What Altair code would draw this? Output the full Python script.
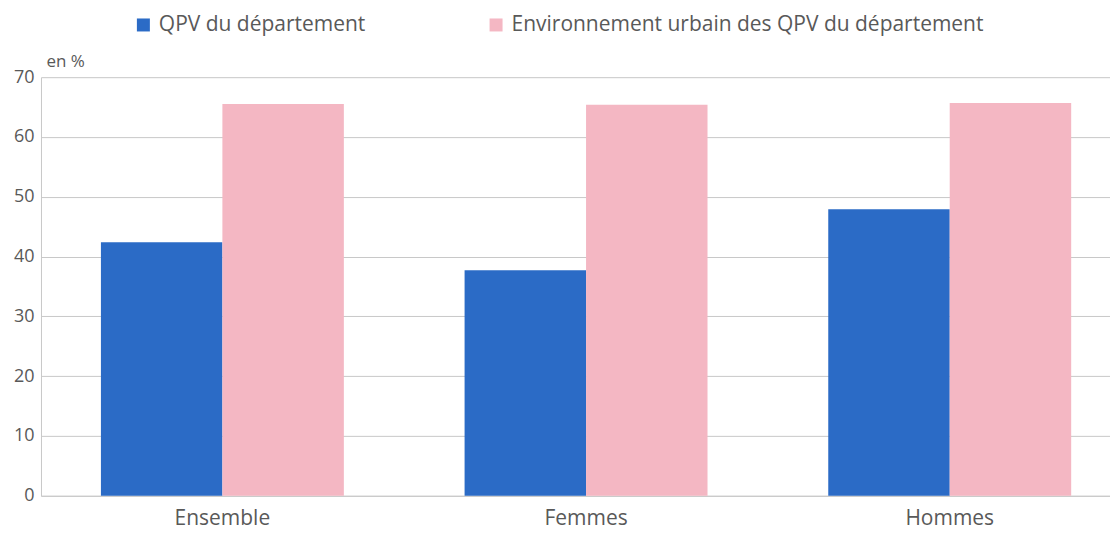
import altair as alt
import pandas as pd

categories = ["Ensemble", "Femmes", "Hommes"]
series = ["QPV du département", "Environnement urbain des QPV du département"]
qpv_values = [42.4, 37.7, 47.9]
env_values = [65.5, 65.4, 65.7]
colors = ["#2B6BC6", "#F4B7C3"]
y_ticks = [0, 10, 20, 30, 40, 50, 60, 70]

rows = []
for c, q, e in zip(categories, qpv_values, env_values):
    rows.append({"cat": c, "serie": series[0], "val": q})
    rows.append({"cat": c, "serie": series[1], "val": e})
df = pd.DataFrame(rows)

text_color = "#595959"
grid_color = "#c8c8c8"

chart = alt.Chart(df).mark_bar().encode(
    x=alt.X(
        "cat:N",
        sort=categories,
        scale=alt.Scale(paddingInner=0.332, paddingOuter=0.1358, align=0.607),
        axis=alt.Axis(
            title=None, labelAngle=0, ticks=False, labelPadding=12,
            labelFontSize=21, labelColor=text_color, domainColor=grid_color,
            grid=False, maxExtent=34, minExtent=34,
        ),
    ),
    xOffset=alt.XOffset("serie:N", sort=series, scale=alt.Scale(paddingInner=0, paddingOuter=0)),
    y=alt.Y(
        "val:Q",
        scale=alt.Scale(domain=[0, 70], nice=False),
        axis=alt.Axis(
            values=y_ticks, title="en %", titleAngle=0, titleAlign="left",
            titleBaseline="alphabetic", titleX=5, titleY=-11, titleFontSize=17,
            titleFontWeight="normal", titleColor=text_color,
            labelFontSize=18, labelColor=text_color, ticks=False, labelPadding=7,
            minExtent=27, maxExtent=27, gridColor=grid_color, domainColor=grid_color,
        ),
    ),
    color=alt.Color(
        "serie:N",
        sort=series,
        scale=alt.Scale(domain=series, range=colors),
        legend=alt.Legend(
            title=None, orient="none", legendX=92, legendY=-63,
            direction="horizontal", symbolType="square", symbolSize=169,
            labelFontSize=21, labelLimit=700, labelOffset=5, columnPadding=120,
            labelColor=text_color, symbolStrokeWidth=0, padding=0,
        ),
    ),
).properties(
    width=1070, height=419,
    padding={"left": 5, "top": 6, "right": 0, "bottom": 0},
).configure(font="Open Sans").configure_view(stroke=None)

chart.save("out.html", embed_options={"renderer": "svg", "actions": False})
